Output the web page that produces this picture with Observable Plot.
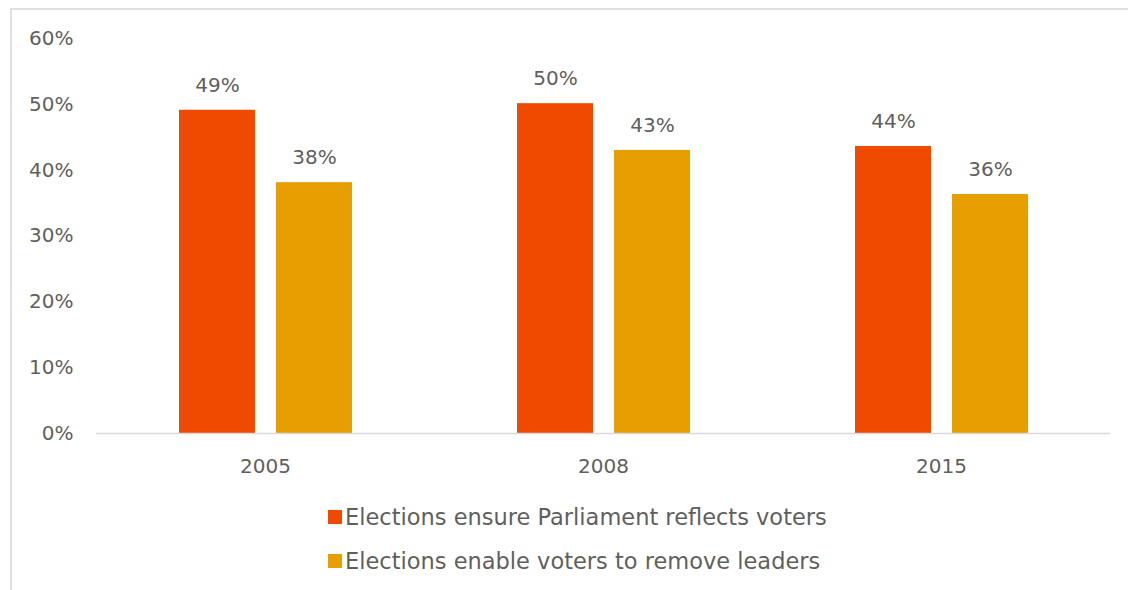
<!DOCTYPE html>
<html>
<head>
<meta charset="utf-8">
<script src="https://cdn.jsdelivr.net/npm/d3@7"></script>
<script src="https://cdn.jsdelivr.net/npm/@observablehq/plot@0.6"></script>
<style>
  html, body { margin: 0; padding: 0; background: #fff; }
  body { width: 1128px; height: 590px; position: relative; overflow: hidden; font-family: "DejaVu Sans", sans-serif; }
  #frame { position: absolute; left: 10px; top: 8px; width: 1300px; height: 800px; border: 2px solid #e0e0e0; box-sizing: border-box; pointer-events: none; }
  #chart { position: absolute; left: 0; top: 0; }
  #legend { position: absolute; left: 328px; top: 502px; color: #5f5f5f; font-size: 22.5px; }
  .item { display: flex; align-items: center; height: 30px; margin-bottom: 14px; white-space: nowrap; }
  .sw { width: 14px; height: 14px; margin-right: 3px; flex: none; }
</style>
</head>
<body>
<div id="frame"></div>
<div id="chart"></div>
<div id="legend"></div>
<script>
const years = ["2005", "2008", "2015"];
const seriesNames = ["Elections ensure Parliament reflects voters", "Elections enable voters to remove leaders"];
const reflectsVoters = [49.1, 50.1, 43.6];
const removeLeaders = [38.1, 43.0, 36.3];
const colors = ["#F04A00", "#E69E00"];
const yTicks = [0, 10, 20, 30, 40, 50, 60];

const data = [];
years.forEach((yr, i) => {
  data.push({year: yr, series: seriesNames[0], value: reflectsVoters[i]});
  data.push({year: yr, series: seriesNames[1], value: removeLeaders[i]});
});

const chart = Plot.plot({
  width: 1128,
  height: 480,
  marginTop: 38,
  marginBottom: 47,
  marginLeft: 95,
  marginRight: 18,
  style: {fontFamily: "DejaVu Sans, sans-serif", fontSize: "20px", color: "#5f5f5f", background: "transparent"},
  fx: {domain: years, padding: 0, label: null, tickSize: 0, tickPadding: 25, axis: "bottom"},
  x: {domain: seriesNames, paddingInner: 0.22, paddingOuter: 0.85, axis: null},
  y: {domain: [0, 60], ticks: yTicks, tickFormat: d => d + "%", tickSize: 0, tickPadding: 23, label: null},
  color: {domain: seriesNames, range: colors},
  marks: [
    Plot.barY(data, {fx: "year", x: "series", y: "value", fill: "series"}),
    Plot.ruleY([0], {stroke: "#d9d9d9", strokeWidth: 1.5}),
    Plot.text(data, {fx: "year", x: "series", y: "value", text: d => Math.round(d.value) + "%", dy: -25, lineAnchor: "middle", fill: "#5f5f5f", fontSize: 20})
  ]
});
document.getElementById("chart").appendChild(chart);

const legend = document.getElementById("legend");
seriesNames.forEach((name, i) => {
  const item = document.createElement("div");
  item.className = "item";
  const sw = document.createElement("span");
  sw.className = "sw";
  sw.style.background = colors[i];
  const label = document.createElement("span");
  label.textContent = name;
  item.appendChild(sw);
  item.appendChild(label);
  legend.appendChild(item);
});
</script>
</body>
</html>
